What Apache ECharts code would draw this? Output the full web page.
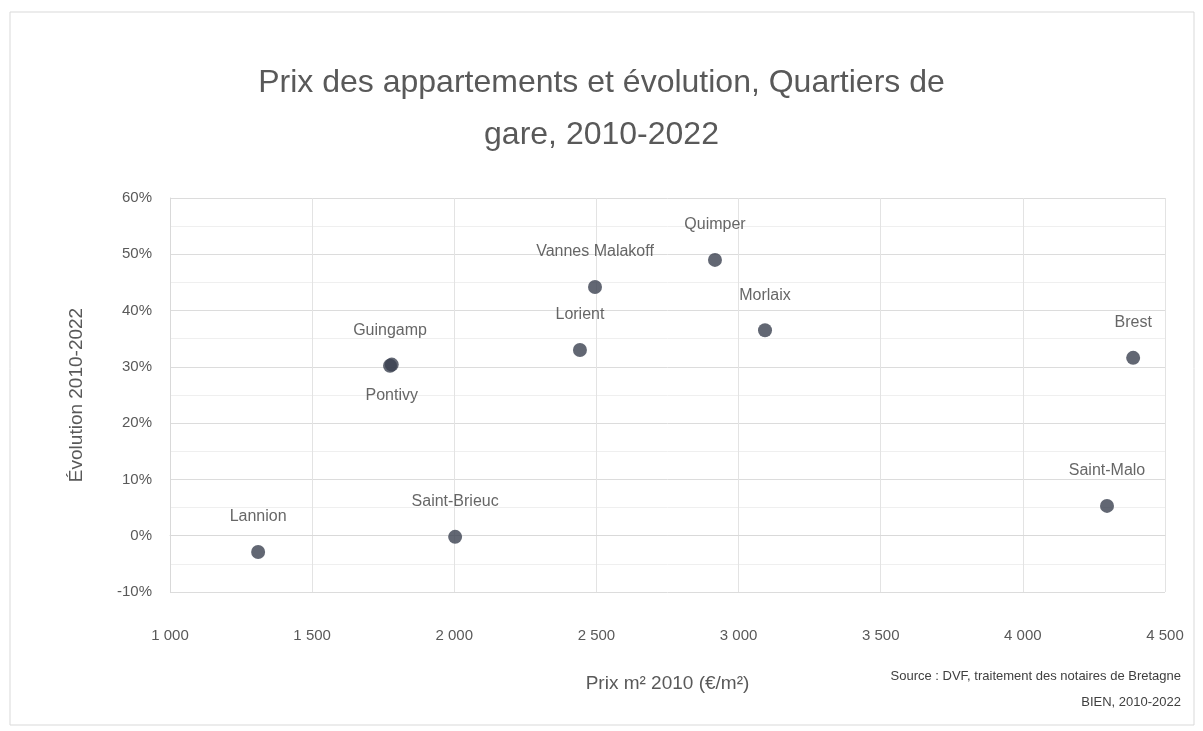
<!DOCTYPE html>
<html>
<head>
<meta charset="utf-8">
<script src="https://cdn.jsdelivr.net/npm/echarts@6/dist/echarts.min.js"></script>
<style>
  html, body { margin: 0; padding: 0; background: #fff; }
  #chart { width: 1203px; height: 731px; }
</style>
</head>
<body>
<div id="chart"></div>
<script>
// quartiers de gare
const names = ['Lannion', 'Saint-Brieuc', 'Guingamp', 'Pontivy', 'Lorient', 'Vannes Malakoff',
    'Quimper', 'Morlaix', 'Brest', 'Saint-Malo'];
// prix m² 2010 (€/m²)
const prix2010 = [1310, 2003, 1774, 1780, 2442, 2495, 2917, 3093, 4388, 4296];
// évolution 2010-2022 (%)
const evolution = [-2.9, -0.2, 30.2, 30.4, 33.0, 44.2, 49.0, 36.5, 31.6, 5.3];

// étiquettes placées sous le point
const labelsBelow = ['Pontivy'];

// lignes de la source, alignées à droite
const sourceLines = ['Source : DVF, traitement des notaires de Bretagne', 'BIEN, 2010-2022'];

const chart = echarts.init(document.getElementById('chart'));

const seriesData = names.map((n, i) => {
    const below = labelsBelow.includes(n);
    return {
        name: n,
        value: [prix2010[i], evolution[i]],
        label: {
            position: below ? 'bottom' : 'top',
            distance: below ? 16 : 20
        }
    };
});

const gray = '#595959';
const font = 'Liberation Sans, Arial, sans-serif';

chart.setOption({
    backgroundColor: '#fff',
    textStyle: {fontFamily: font},
    title: {
        text: 'Prix des appartements et évolution, Quartiers de\ngare, 2010-2022',
        left: 'center',
        top: 52,
        textStyle: {color: gray, fontSize: 32, fontWeight: 'normal', lineHeight: 52, fontFamily: font}
    },
    grid: {left: 170, right: 38, top: 198, bottom: 139},
    xAxis: {
        type: 'value',
        min: 1000,
        max: 4500,
        interval: 500,
        name: 'Prix m² 2010 (€/m²)',
        nameLocation: 'middle',
        nameGap: 82,
        nameTextStyle: {color: gray, fontSize: 19},
        axisLine: {show: true, lineStyle: {color: '#d9d9d9'}},
        axisTick: {show: false},
        axisLabel: {
            color: gray, fontSize: 15, margin: 36,
            formatter: v => String(v).replace(/\B(?=(\d{3})+$)/g, ' ')
        },
        splitLine: {show: true, lineStyle: {color: '#e3e3e3'}}
    },
    yAxis: {
        type: 'value',
        min: -10,
        max: 60,
        interval: 10,
        name: 'Évolution 2010-2022',
        nameLocation: 'middle',
        nameGap: 84,
        nameTextStyle: {color: gray, fontSize: 19},
        axisLine: {show: true, lineStyle: {color: '#d9d9d9'}},
        axisTick: {show: false},
        axisLabel: {color: gray, fontSize: 15, margin: 18, formatter: '{value}%'},
        splitLine: {show: true, lineStyle: {color: '#dcdcdc'}},
        minorTick: {show: false, splitNumber: 2},
        minorSplitLine: {show: true, lineStyle: {color: '#efefef'}}
    },
    series: [{
        type: 'scatter',
        symbol: 'circle',
        symbolSize: 14,
        itemStyle: {color: '#3b4150'},
        label: {
            show: true,
            formatter: '{b}',
            color: '#404040',
            fontSize: 16
        },
        data: seriesData
    }],
    graphic: [
        {
            type: 'rect',
            shape: {x: 10, y: 12, width: 1184, height: 713},
            style: {fill: 'none', stroke: '#d9d9d9', lineWidth: 1},
            silent: true,
            z: -1
        },
        ...sourceLines.map((t, i) => ({
            type: 'text',
            right: 22,
            top: 670 + i * 26,
            style: {text: t, fill: '#404040', font: '13px ' + font}
        }))
    ]
});
</script>
</body>
</html>
